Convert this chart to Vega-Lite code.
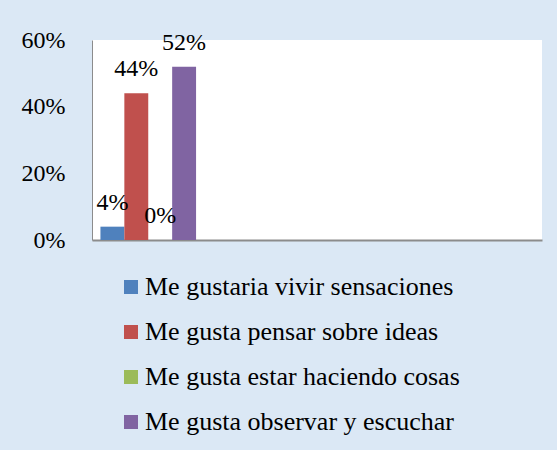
{
  "$schema": "https://vega.github.io/schema/vega-lite/v6.json",
  "width": 450,
  "height": 200,
  "autosize": {"type": "none"},
  "padding": {"left": 92, "top": 40, "right": 15, "bottom": 210},
  "background": "#dbe8f5",
  "config": {
    "font": "Liberation Serif",
    "view": {"fill": "white", "stroke": null}
  },
  "data": {
    "values": [
      {"grupo": "g1", "serie": "Me gustaria vivir sensaciones", "valor": 0.04, "etiqueta": "4%"},
      {"grupo": "g1", "serie": "Me gusta pensar sobre ideas", "valor": 0.44, "etiqueta": "44%"},
      {"grupo": "g1", "serie": "Me gusta estar haciendo cosas", "valor": 0.0, "etiqueta": "0%"},
      {"grupo": "g1", "serie": "Me gusta observar y escuchar", "valor": 0.52, "etiqueta": "52%"}
    ]
  },
  "encoding": {
    "x": {
      "field": "grupo", "type": "nominal",
      "scale": {"domain": ["g1", "g2", "g3", "g4"], "paddingInner": 0.15, "paddingOuter": 0.075},
      "axis": {"labels": false, "ticks": false, "title": null, "domainColor": "#8c8c8c", "domainWidth": 2}
    },
    "xOffset": {
      "field": "serie", "type": "nominal",
      "scale": {"domain": ["Me gustaria vivir sensaciones", "Me gusta pensar sobre ideas", "Me gusta estar haciendo cosas", "Me gusta observar y escuchar"], "paddingInner": 0, "paddingOuter": 0}
    },
    "y": {
      "field": "valor", "type": "quantitative",
      "scale": {"domain": [0, 0.6], "nice": false},
      "axis": {"values": [0, 0.2, 0.4, 0.6], "format": ".0%", "title": null, "ticks": false, "grid": false,
               "labelFont": "Liberation Serif", "labelFontSize": 24, "labelColor": "#000000", "labelPadding": 27,
               "domainColor": "#8c8c8c", "domainWidth": 1}
    }
  },
  "layer": [
    {
      "mark": {"type": "bar"},
      "encoding": {
        "color": {
          "field": "serie", "type": "nominal",
          "scale": {"domain": ["Me gustaria vivir sensaciones", "Me gusta pensar sobre ideas", "Me gusta estar haciendo cosas", "Me gusta observar y escuchar"],
                    "range": ["#4F81BD", "#C0504D", "#9BBB59", "#8064A2"]},
          "legend": {
            "orient": "none", "legendX": 26, "legendY": 234, "title": null,
            "symbolType": "square", "symbolSize": 196, "symbolStrokeWidth": 0, "symbolOpacity": 1,
            "labelFont": "Liberation Serif", "labelFontSize": 26, "labelColor": "#000000", "labelOffset": 1, "rowPadding": 19,
            "labelLimit": 500, "padding": 0
          }
        }
      }
    },
    {
      "mark": {"type": "text", "dy": -24, "font": "Liberation Serif", "fontSize": 24, "color": "#000000", "baseline": "middle"},
      "encoding": {"text": {"field": "etiqueta"}}
    }
  ]
}
